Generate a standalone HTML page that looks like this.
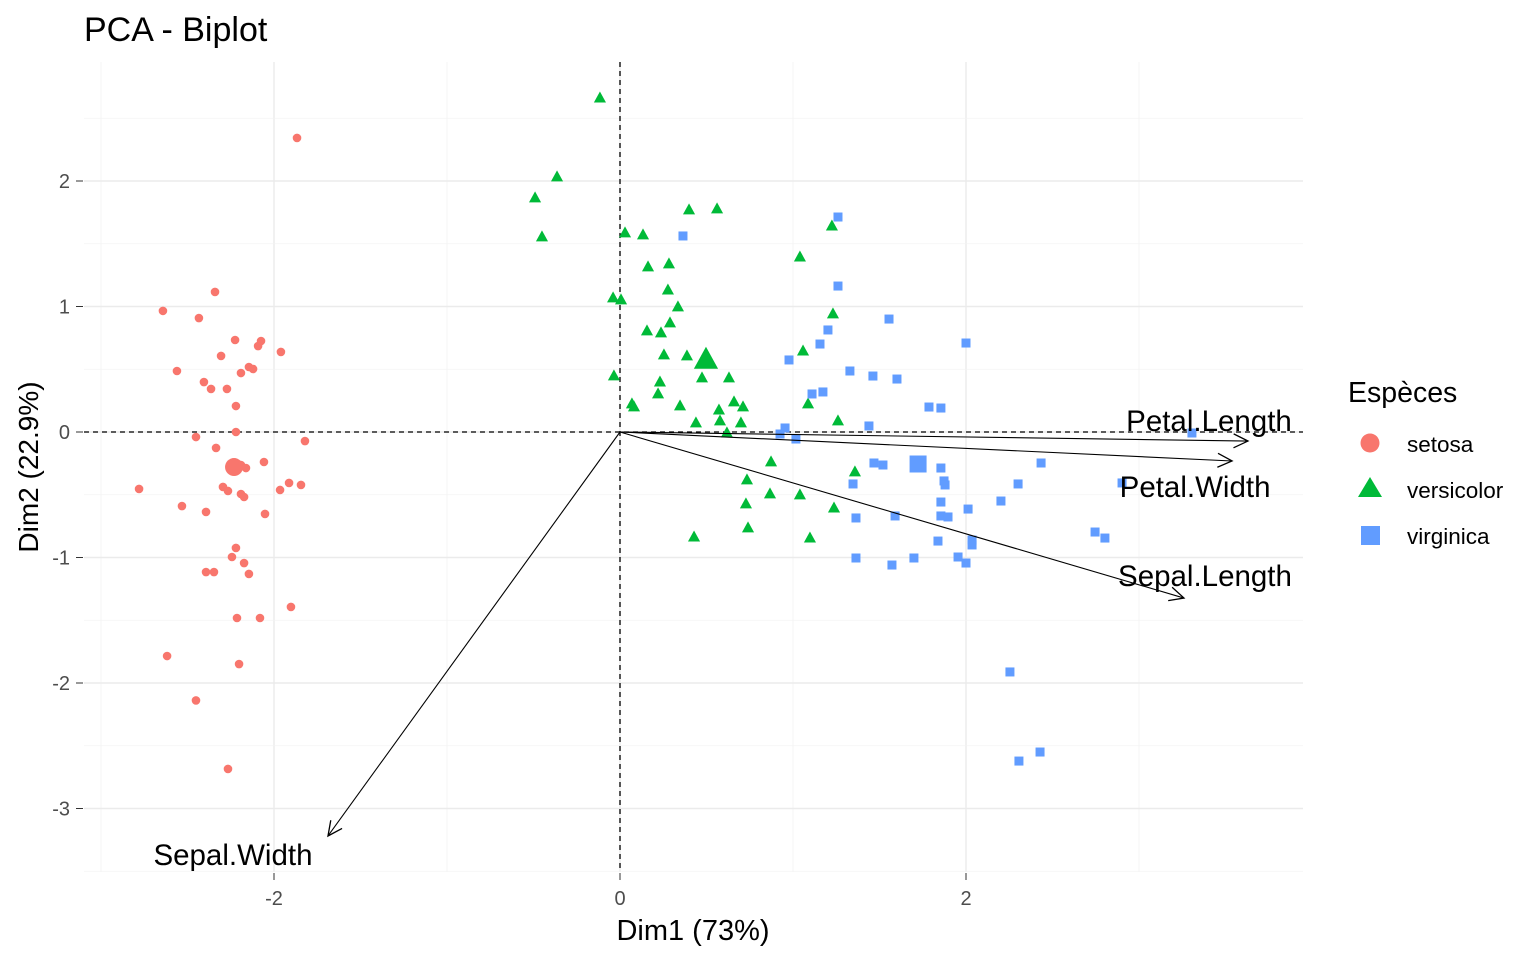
<!DOCTYPE html>
<html><head><meta charset="utf-8"><style>
html,body{margin:0;padding:0;background:#fff;}
svg{display:block;font-family:"Liberation Sans",Arial,sans-serif;}
</style></head><body>
<svg id="chart" width="1536" height="960" xmlns="http://www.w3.org/2000/svg">
<text x="84" y="41" font-size="34" fill="#000">PCA - Biplot</text>
<g id="grid"></g>
<g id="axes"></g>
<g id="pts"></g>
<g id="vars"></g>
<text x="693" y="940" font-size="29" text-anchor="middle" fill="#000">Dim1 (73%)</text>
<text transform="translate(38,467) rotate(-90)" font-size="28" text-anchor="middle" fill="#000">Dim2 (22.9%)</text>
<g>
<text x="1348" y="402" font-size="28.5" fill="#000">Espèces</text>
<g><circle cx="1370" cy="443" r="9.5" fill="#F8766D"/><text x="1407" y="452" font-size="22.5">setosa</text></g>
<g><polygon points="1370,477 1382,497 1358,497" fill="#00BA38"/><text x="1407" y="498" font-size="22.5">versicolor</text></g>
<g><rect x="1361" y="526" width="19" height="19" fill="#619CFF"/><text x="1407" y="544" font-size="22.5">virginica</text></g>
</g>
</svg>
<script>
const setosaX=[-1.867,-2.642,-2.341,-2.434,-2.225,-2.075,-2.092,-1.960,-2.306,-2.561,-2.121,-2.191,-2.145,-2.405,-2.364,-2.272,-2.220,-2.451,-2.220,-1.821,-2.335,-2.058,-2.231,-2.249,-2.191,-2.162,-2.780,-2.295,-2.266,-2.191,-2.173,-1.913,-1.965,-1.844,-2.532,-2.393,-2.052,-2.220,-2.243,-2.173,-2.145,-2.393,-2.347,-1.902,-2.214,-2.081,-2.618,-2.202,-2.451,-2.266];
const setosaY=[2.343,0.965,1.116,0.908,0.733,0.725,0.685,0.638,0.606,0.486,0.502,0.470,0.518,0.398,0.343,0.343,0.207,-0.040,0.000,-0.072,-0.127,-0.239,-0.247,-0.279,-0.263,-0.287,-0.454,-0.438,-0.470,-0.494,-0.518,-0.406,-0.462,-0.422,-0.590,-0.637,-0.653,-0.924,-0.996,-1.044,-1.131,-1.116,-1.116,-1.394,-1.482,-1.482,-1.785,-1.849,-2.139,-2.685];
const versiX=[-0.116,-0.364,-0.491,-0.451,0.399,0.561,0.029,0.133,0.162,0.283,1.225,1.040,-0.040,0.006,0.277,0.335,0.156,0.237,0.289,1.231,1.058,0.254,0.387,-0.035,0.474,0.630,0.231,0.220,0.659,0.711,0.069,0.081,0.347,0.572,1.260,0.439,0.699,1.087,0.618,0.873,0.734,1.358,0.867,0.728,1.040,1.237,0.740,0.428,1.098,0.578];
const versiY=[2.661,2.032,1.865,1.554,1.769,1.777,1.586,1.570,1.315,1.339,1.641,1.394,1.068,1.052,1.131,0.996,0.805,0.789,0.869,0.940,0.645,0.614,0.606,0.446,0.430,0.430,0.398,0.303,0.239,0.199,0.223,0.199,0.207,0.175,0.088,0.072,0.072,0.223,-0.008,-0.239,-0.382,-0.319,-0.494,-0.574,-0.502,-0.606,-0.765,-0.837,-0.845,0.088];
const virgX=[0.364,1.260,1.260,1.202,1.156,0.977,1.555,2.000,1.329,1.462,1.601,1.110,1.173,1.786,1.855,1.439,0.954,0.925,1.017,3.306,2.434,1.468,1.520,1.855,1.873,1.879,2.301,2.902,1.347,2.202,1.855,2.012,1.364,1.590,1.855,1.896,2.746,2.803,1.838,2.035,2.035,1.364,1.699,1.954,2.000,1.572,2.254,2.428,2.306];
const virgY=[1.562,1.713,1.163,0.813,0.701,0.574,0.900,0.709,0.486,0.446,0.422,0.303,0.319,0.199,0.191,0.048,0.032,-0.016,-0.056,-0.008,-0.247,-0.247,-0.263,-0.287,-0.390,-0.422,-0.414,-0.406,-0.414,-0.550,-0.558,-0.614,-0.685,-0.669,-0.669,-0.677,-0.797,-0.845,-0.869,-0.861,-0.900,-1.004,-1.004,-0.996,-1.044,-1.060,-1.912,-2.550,-2.622];
const centroidX=[-2.231,0.497,1.723];
const centroidY=[-0.279,0.574,-0.255];
const varNames=["Petal.Length","Petal.Width","Sepal.Length","Sepal.Width"];
const varX=[3.630,3.538,3.260,-1.688];
const varY=[-0.072,-0.231,-1.323,-3.219];
const xTicks=[-2,0,2];
const yTicks=[-3,-2,-1,0,1,2];

const NS="http://www.w3.org/2000/svg";
const L=84,R=1303,T=62,B=872;
const sx=v=>620+v*173;
const sy=v=>432-v*125.5;
function mk(parent,tag,attrs){const e=document.createElementNS(NS,tag);for(const k in attrs)e.setAttribute(k,attrs[k]);parent.appendChild(e);return e;}
const grid=document.getElementById('grid'),axes=document.getElementById('axes'),pts=document.getElementById('pts'),vars=document.getElementById('vars');
for(let v=-3;v<=3;v++){
  const e=mk(grid,'line',{x1:sx(v),x2:sx(v),y1:T,y2:B,stroke:(v%2===0)?'#ebebeb':'#f3f3f3','stroke-width':(v%2===0)?1.4:0.8});
  
  
}
for(let v=-3.5;v<=2.5;v+=0.5){
  const maj=Number.isInteger(v);
  const e=mk(grid,'line',{x1:L,x2:R,y1:sy(v),y2:sy(v),stroke:maj?'#ebebeb':'#f3f3f3','stroke-width':maj?1.4:0.8});
  
  
}
xTicks.forEach(t=>{
  mk(axes,'line',{x1:sx(t),x2:sx(t),y1:873,y2:880,stroke:'#333','stroke-width':1});
  const e=mk(axes,'text',{x:sx(t),y:905,'font-size':20,'text-anchor':'middle',fill:'#4d4d4d'});e.textContent=t;
  
  
});
yTicks.forEach(t=>{
  mk(axes,'line',{x1:76,x2:83,y1:sy(t),y2:sy(t),stroke:'#333','stroke-width':1});
  const e=mk(axes,'text',{x:70,y:sy(t)+7,'font-size':20,'text-anchor':'end',fill:'#4d4d4d'});e.textContent=t;
  
  
});
let d1=mk(axes,'line',{x1:sx(0),x2:sx(0),y1:T,y2:B,stroke:'#000','stroke-width':1.3,'stroke-dasharray':'5,4'});


let d2=mk(axes,'line',{x1:L,x2:R,y1:sy(0),y2:sy(0),stroke:'#000','stroke-width':1.3,'stroke-dasharray':'5,4'});



function circle(x,y,r){const e=mk(pts,'circle',{cx:sx(x),cy:sy(y),r:r,fill:'#F8766D'});}
function tri(x,y,s){const cx=sx(x),cy=sy(y);const e=mk(pts,'polygon',{points:`${cx},${cy-s*0.6} ${cx+s*0.55},${cy+s*0.4} ${cx-s*0.55},${cy+s*0.4}`,fill:'#00BA38'});}
function sq(x,y,s){const e=mk(pts,'rect',{x:sx(x)-s/2,y:sy(y)-s/2,width:s,height:s,fill:'#619CFF'});}
setosaX.forEach((x,i)=>circle(x,setosaY[i],4.3));
versiX.forEach((x,i)=>tri(x,versiY[i],11));
virgX.forEach((x,i)=>sq(x,virgY[i],9));
circle(centroidX[0],centroidY[0],9);
tri(centroidX[1],centroidY[1],22);
sq(centroidX[2],centroidY[2],17);

const labOff=[[-39,-10],[-37,36],[21,-12],[-95,29]];
varNames.forEach((n,i)=>{
  const x1=sx(0),y1=sy(0),x2=sx(varX[i]),y2=sy(varY[i]);
  const a=mk(vars,'line',{x1:x1,y1:y1,x2:x2,y2:y2,stroke:'#000','stroke-width':1.1});
  
  
  const ang=Math.atan2(y2-y1,x2-x1),h=16,w=0.45;
  const p=mk(vars,'polyline',{points:`${x2-h*Math.cos(ang-w)},${y2-h*Math.sin(ang-w)} ${x2},${y2} ${x2-h*Math.cos(ang+w)},${y2-h*Math.sin(ang+w)}`,fill:'none',stroke:'#000','stroke-width':1.3});
  
  
  const t=mk(vars,'text',{x:x2+labOff[i][0],y:y2+labOff[i][1],'font-size':29.5,'text-anchor':'middle',fill:'#000'});t.textContent=n;
  
  
});
</script>
</body></html>
